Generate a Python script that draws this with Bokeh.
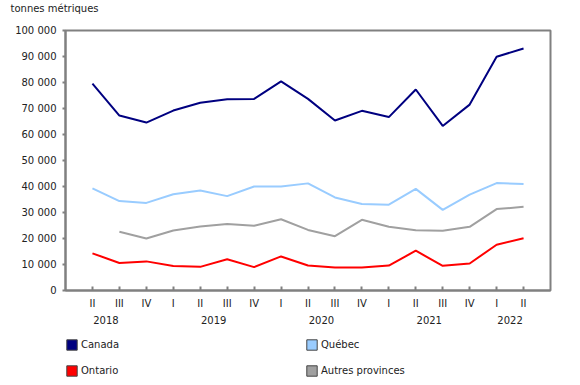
from bokeh.plotting import figure
from bokeh.models import Range1d, FixedTicker, LinearAxis, Legend, LegendItem
from bokeh.layouts import column
from bokeh.embed import file_html
from bokeh.resources import INLINE

nan = float("nan")

quarters = ["II", "III", "IV", "I", "II", "III", "IV", "I", "II", "III", "IV",
            "I", "II", "III", "IV", "I", "II"]
years = ["2018", "2018", "2018", "2019", "2019", "2019", "2019", "2020", "2020",
         "2020", "2020", "2021", "2021", "2021", "2021", "2022", "2022"]

canada = [79600, 67300, 64600, 69200, 72200, 73600, 73700, 80400, 73700,
          65400, 69100, 66700, 77300, 63300, 71500, 89900, 93100]
quebec = [39300, 34400, 33700, 37000, 38500, 36300, 40000, 40000, 41200,
          35800, 33300, 33000, 39100, 31000, 36900, 41300, 41000]
ontario = [14300, 10600, 11200, 9400, 9100, 12000, 9000, 13100, 9600,
           8800, 8800, 9600, 15300, 9500, 10400, 17600, 20100]
autres = [nan, 22600, 20000, 23100, 24600, 25600, 24900, 27400, 23300,
          20900, 27200, 24500, 23200, 23000, 24500, 31300, 32200]

series_names = ["Canada", "Québec", "Ontario", "Autres provinces"]
y_ticks = list(range(0, 100001, 10000))
y_title = "tonnes métriques"

FONT = "DejaVu Sans"
TXT = "#222222"
AX = "#808080"
colors = {"Canada": "#000080", "Québec": "#99CCFF", "Ontario": "#FF0000",
          "Autres provinces": "#A0A0A0"}
data = {"Canada": canada, "Québec": quebec, "Ontario": ontario,
        "Autres provinces": autres}

n = len(quarters)
xs = list(range(n))


def strip(height):
    f = figure(width=580, height=height, output_backend="svg", toolbar_location=None,
               x_axis_type=None, y_axis_type=None,
               x_range=Range1d(0, 1), y_range=Range1d(0, 1),
               min_border=0, min_border_left=0, min_border_right=0,
               min_border_top=0, min_border_bottom=0)
    f.outline_line_color = None
    f.grid.visible = False
    f.background_fill_color = "white"
    f.border_fill_color = "white"
    return f


# top strip holding the unit title
top = strip(22)
top.title.text = y_title
top.title.align = "left"
top.title.offset = -55
top.title.standoff = 0
top.title.text_font = FONT
top.title.text_font_size = "10px"
top.title.text_font_style = "normal"
top.title.text_color = TXT

# main chart
p = figure(width=580, height=313, output_backend="svg", toolbar_location=None,
           x_range=Range1d(-1, n), y_range=Range1d(0, 100000),
           min_border_left=65, min_border_right=30, min_border_top=8,
           min_border_bottom=45)
p.grid.visible = False
p.outline_line_color = AX
p.outline_line_width = 2
p.background_fill_color = "white"
p.border_fill_color = "white"

# y axis
ya = p.yaxis[0]
ya.ticker = FixedTicker(ticks=y_ticks)
ya.major_label_overrides = {v: f"{v:,}".replace(",", " ") for v in y_ticks}
ya.axis_line_color = AX
ya.axis_line_width = 2
ya.major_tick_line_color = AX
ya.major_tick_line_width = 2
ya.major_tick_out = 3
ya.major_tick_in = 0
ya.minor_tick_line_color = None
ya.major_label_standoff = 6
ya.major_label_text_font = FONT
ya.major_label_text_font_size = "10px"
ya.major_label_text_color = TXT

# x axis (quarters)
xa = p.xaxis[0]
xa.ticker = FixedTicker(ticks=xs)
xa.major_label_overrides = {i: q for i, q in zip(xs, quarters)}
xa.axis_line_color = AX
xa.axis_line_width = 2
xa.major_tick_line_color = AX
xa.major_tick_line_width = 2
xa.major_tick_in = 4
xa.major_tick_out = 0
xa.minor_tick_line_color = None
xa.major_label_standoff = 7
xa.major_label_text_font = FONT
xa.major_label_text_font_size = "10px"
xa.major_label_text_color = TXT

# year labels: between quarters II and III of each year (or I and II if year incomplete)
year_pos = {}
for y in dict.fromkeys(years):
    idx = [i for i in xs if years[i] == y]
    qs = [quarters[i] for i in idx]
    if "III" in qs and "II" in qs:
        year_pos[idx[qs.index("II")] + 0.5] = y
    else:
        year_pos[idx[0] + 0.5] = y
ya2 = LinearAxis(ticker=FixedTicker(ticks=list(year_pos.keys())),
                 major_label_overrides=year_pos)
ya2.axis_line_color = None
ya2.major_tick_line_color = None
ya2.minor_tick_line_color = None
ya2.major_tick_in = 0
ya2.major_tick_out = 0
ya2.major_label_standoff = 4
ya2.major_label_text_font = FONT
ya2.major_label_text_font_size = "10px"
ya2.major_label_text_color = TXT
p.add_layout(ya2, "below")

# lines
for name in series_names:
    p.line(xs, data[name], line_color=colors[name], line_width=2)

# legend strip under the chart
lf = strip(50)
swatch = {}
for name in series_names:
    swatch[name] = lf.quad(left=[nan], right=[nan], top=[nan], bottom=[nan],
                           fill_color=colors[name], line_color="#444444",
                           line_width=1)


def make_legend(names, loc):
    lg = Legend(items=[LegendItem(label=nm, renderers=[swatch[nm]]) for nm in names],
                location=loc, orientation="vertical",
                glyph_width=13, glyph_height=13, label_height=13,
                label_standoff=3, spacing=13, padding=0, margin=0,
                border_line_color=None, background_fill_alpha=0,
                label_text_font=FONT, label_text_font_size="10px",
                label_text_color=TXT)
    lf.add_layout(lg, "center")


make_legend(["Canada", "Ontario"], (0, 8))
make_legend(["Québec", "Autres provinces"], (240, 8))

layout = column(top, p, lf, spacing=0)
open("out.html", "w").write(file_html(layout, INLINE))
